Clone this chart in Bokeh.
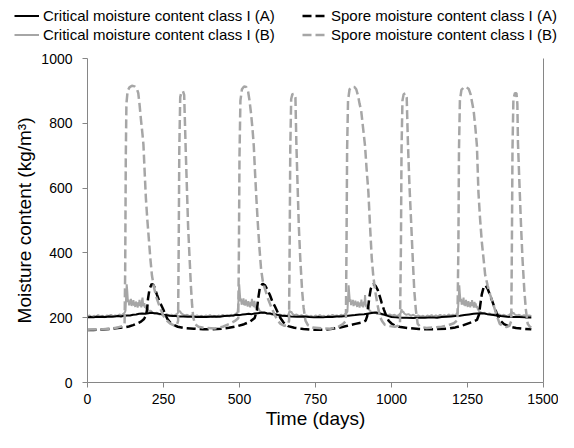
from bokeh.plotting import figure
from bokeh.models import Legend, LegendItem, FixedTicker, Range1d, LinearAxis
from bokeh.layouts import column
from bokeh.embed import file_html
from bokeh.resources import INLINE

# ---------------- data ----------------
x_ticks = [0, 250, 500, 750, 1000, 1250, 1500]
y_ticks = [0, 200, 400, 600, 800, 1000]

labels = ["Critical moisture content class I (A)",
          "Spore moisture content class I (A)",
          "Critical moisture content class I (B)",
          "Spore moisture content class I (B)"]

crit_a_t = [0, 10, 20, 30, 40, 50, 60, 70, 80, 90, 100, 110, 120, 130, 140, 150, 160, 170, 180, 190,
            200, 210, 220, 230, 240, 250, 260, 270, 280, 290, 300, 315, 330, 345, 360,
            375, 390, 405, 420, 435, 450, 465, 480, 490, 500, 510, 520, 530, 540, 550, 560, 570, 580,
            590, 600, 610, 620, 630, 640, 655, 670, 690, 710, 730,
            745, 760, 775, 790, 805, 820, 835, 850, 865, 880, 895, 910, 925, 940, 950, 960, 970, 980,
            990, 1000, 1015, 1030, 1050, 1070, 1090,
            1110, 1130, 1150, 1165, 1180, 1195, 1210, 1225, 1240, 1255, 1270, 1281, 1295, 1305, 1315,
            1330, 1345, 1360, 1380, 1400, 1420, 1440, 1460]
crit_a_v = [201, 202, 201, 203, 202, 203, 202, 204, 203, 204, 205, 204, 206, 207, 207, 209, 210, 212, 213, 212,
            214, 215, 214, 213, 211, 209, 208, 206, 205, 205, 204, 204, 203, 203, 202,
            203, 202, 203, 204, 203, 205, 206, 207, 209, 208, 210, 211, 212, 211, 213, 214, 215, 216,
            214, 213, 211, 210, 208, 206, 205, 204, 203, 204, 202,
            201, 202, 201, 203, 202, 204, 204, 205, 207, 208, 210, 211, 213, 215, 216, 214, 211, 208,
            205, 202, 201, 200, 200, 199, 200,
            200, 201, 200, 202, 203, 204, 205, 206, 208, 210, 212, 213, 214, 213, 211,
            209, 207, 205, 203, 202, 202, 201, 201]

crit_b_t = [0, 7, 14, 21, 28, 35, 42, 49, 56, 63, 70, 77, 84, 91, 98, 105, 112, 118, 122, 125, 127, 129,
            131, 133, 135, 137, 139, 141, 143, 145, 147, 149, 151, 153, 155, 157, 159, 161, 163, 165,
            167, 169, 171, 173, 175, 177, 179, 181, 183, 185, 187, 189, 191, 193, 196, 199, 203, 208,
            214, 220, 228, 236, 244, 252, 260, 268, 276, 284, 292, 297, 299, 301, 304, 308, 314, 320,
            328, 336, 344, 352, 360,
            368, 375, 382, 389, 396, 403, 410, 417, 424, 431, 438, 445, 452, 459, 466, 473, 480, 486,
            491, 494, 497, 499, 501, 503, 505, 507, 509, 511, 513, 515, 517, 519, 521, 523, 525, 527,
            529, 531, 533, 535, 537, 539, 541, 543, 545, 547, 549, 551, 553, 555, 558, 562, 566, 571,
            577, 584, 592, 600, 608, 616, 624, 632, 640, 648, 656, 662, 665, 667, 670, 674, 680, 688,
            696, 704, 712, 720, 728,
            736, 743, 750, 757, 764, 771, 778, 785, 792, 799, 806, 813, 820, 827, 834, 841, 847, 851,
            855, 857, 859, 861, 863, 865, 867, 869, 871, 873, 875, 877, 879, 881, 883, 885, 887, 889,
            891, 893, 895, 897, 899, 901, 903, 905, 907, 909, 911, 913, 915, 917, 919, 921, 924, 928,
            933, 939, 946, 954, 962, 970, 978, 986, 994, 1002, 1010, 1018, 1026, 1030, 1033, 1035,
            1038, 1042, 1048, 1056, 1064, 1072, 1080, 1088, 1096,
            1104, 1111, 1118, 1125, 1132, 1139, 1146, 1153, 1160, 1167, 1174, 1181, 1188, 1195, 1202,
            1209, 1214, 1218, 1221, 1223, 1225, 1227, 1229, 1231, 1233, 1235, 1237, 1239, 1241, 1243,
            1245, 1247, 1249, 1251, 1253, 1255, 1257, 1259, 1261, 1263, 1265, 1267, 1269, 1271, 1273,
            1275, 1277, 1279, 1281, 1284, 1288, 1293, 1299, 1306, 1314, 1322, 1330, 1338, 1346, 1354,
            1362, 1370, 1378, 1386, 1392, 1396, 1398, 1401, 1405, 1412, 1420, 1428, 1436, 1444, 1452,
            1460]
crit_b_v = [204, 207, 202, 206, 203, 208, 204, 206, 201, 207, 205, 209, 204, 207, 205, 210, 207, 212, 215, 222, 262, 303,
            280, 248, 256, 238, 250, 242, 258, 236, 247, 240, 254, 237, 245, 233, 250, 238, 244, 231,
            248, 236, 255, 238, 243, 232, 252, 262, 240, 236, 245, 230, 238, 227, 233, 224, 219, 222,
            216, 213, 215, 210, 212, 208, 211, 207, 209, 206, 210, 214, 224, 218, 221, 214, 210, 207,
            209, 205, 208, 204, 207,
            203, 206, 202, 207, 204, 208, 203, 206, 202, 207, 204, 209, 205, 207, 204, 209, 206, 211,
            214, 218, 258, 303, 276, 251, 259, 240, 252, 244, 260, 239, 249, 237, 256, 241, 247, 234,
            251, 240, 246, 232, 249, 238, 258, 236, 244, 233, 252, 240, 229, 237, 226, 230, 221, 218,
            214, 216, 211, 213, 209, 212, 207, 210, 206, 209, 205, 212, 222, 216, 219, 212, 208, 210,
            205, 208, 203, 207, 204,
            206, 202, 207, 203, 208, 204, 206, 201, 207, 204, 209, 205, 207, 203, 209, 206, 211, 214,
            219, 256, 300, 274, 249, 257, 239, 251, 243, 255, 236, 248, 238, 253, 240, 246, 233, 250,
            239, 245, 231, 247, 237, 256, 235, 243, 232, 250, 238, 270, 242, 233, 240, 228, 232, 222,
            218, 215, 216, 211, 213, 209, 212, 207, 210, 206, 209, 205, 210, 214, 226, 217,
            220, 213, 209, 211, 206, 209, 204, 207, 203,
            206, 202, 207, 204, 208, 203, 207, 204, 209, 205, 208, 204, 210, 206, 209,
            207, 212, 216, 258, 300, 273, 250, 258, 240, 252, 244, 262, 238, 248, 236,
            255, 240, 246, 233, 251, 240, 245, 232, 248, 237, 254, 236, 243, 231, 249,
            238, 244, 230, 236, 226, 220, 217, 214, 215, 211, 213, 209, 211, 207, 210,
            206, 209, 205, 208, 212, 219, 213, 216, 210, 207, 209, 205, 208, 204, 207,
            205]

spore_a_t = [0, 20, 40, 60, 80, 100, 120, 136, 150, 165, 176, 186, 192, 196, 199, 204, 211, 217, 222, 228,
             235, 242, 249, 256, 263, 272, 282, 297, 320, 350, 380, 410, 440, 465, 490, 515, 535, 550,
             557, 562, 567, 576, 584, 592, 600, 608, 616, 624, 634, 645, 660, 680, 710, 740, 773, 800,
             827, 855, 881, 905, 915, 920, 923, 927, 932, 940, 948, 955, 962, 968, 975, 983, 991, 1000,
             1011, 1030, 1054, 1090, 1119, 1150, 1183, 1210, 1237, 1264, 1281, 1288, 1292, 1297, 1303,
             1309, 1316, 1324, 1335, 1345, 1356, 1370, 1389, 1410, 1432, 1460]
spore_a_v = [162, 162, 163, 164, 166, 168, 170, 173, 177, 183, 188, 196, 206, 225, 258, 288, 304, 301, 290, 272,
             254, 240, 226, 210, 196, 185, 178, 172, 168, 166, 164, 164, 166, 169, 173, 180, 188, 199,
             222, 262, 293, 305, 300, 286, 270, 250, 236, 220, 200, 185, 174, 169, 165, 163, 163, 165,
             169, 175, 181, 186, 191, 205, 230, 262, 290, 304, 298, 285, 264, 245, 225, 205, 190, 182,
             176, 171, 168, 165, 164, 165, 166, 170, 177, 186, 193, 210, 240, 272, 294,
             300, 290, 270, 242, 216, 193, 180, 172, 168, 166, 164]

spore_b_t = [0, 20, 40, 60, 80, 100, 115, 122, 124, 126, 128, 132, 138, 146, 155, 162, 167, 171, 176, 181,
             184, 188, 192, 197, 202, 207, 212, 219, 227, 238, 249, 260, 272, 285, 294, 298, 300, 302,
             305, 309, 314, 318, 320, 323, 327, 331, 336, 340, 344, 348, 354, 365, 390, 420, 445, 465,
             485, 496, 498, 500, 503, 508, 515, 522, 528, 533, 538, 543, 547, 551, 556, 561, 566, 571,
             577, 585, 595, 605, 615, 625, 635, 648, 658, 663, 665, 667, 670, 674, 680, 684, 687, 691,
             695, 700, 706, 711, 717, 725, 740, 770, 800, 825, 840, 850, 852, 854, 857, 862, 870, 878,
             884, 890, 895, 900, 906, 913, 918, 924, 929, 935, 940, 946, 954, 962, 970, 978, 995, 1011,
             1022, 1028, 1031, 1033, 1036, 1040, 1046, 1050, 1054, 1059, 1065, 1070, 1075, 1080, 1086,
             1095, 1115, 1140, 1165, 1185, 1205, 1217, 1220, 1222, 1225, 1230, 1238, 1246, 1254, 1260,
             1265, 1270, 1276, 1281, 1286, 1291, 1297, 1303, 1308, 1316, 1325, 1335, 1345, 1356, 1367,
             1378, 1388, 1394, 1396, 1398, 1401, 1406, 1411, 1414, 1416, 1421, 1426, 1431, 1437, 1442,
             1448, 1455, 1460]
spore_b_v = [163, 164, 163, 165, 167, 170, 174, 180, 350, 700, 860, 900, 911, 916, 914, 908, 893, 860, 810, 765,
             734, 650, 570, 500, 440, 380, 330, 292, 262, 232, 207, 192, 182, 176, 177, 190, 420, 720,
             880, 897, 899, 888, 820, 720, 600, 480, 380, 300, 240, 200, 180, 172, 168, 167, 172, 180,
             190, 198, 400, 700, 870, 905, 914, 912, 900, 870, 830, 780, 730, 650, 560, 480, 410, 350,
             310, 285, 255, 232, 210, 192, 181, 175, 178, 190, 420, 720, 875, 890, 891, 880, 740, 610,
             486, 380, 283, 230, 191, 177, 170, 167, 166, 172, 180, 190, 420, 720, 870, 905, 913, 912,
             905, 885, 860, 841, 790, 730, 660, 587, 490, 384, 330, 284, 240, 203, 188, 178, 174, 172,
             175, 185, 420, 720, 870, 890, 892, 880, 740, 610, 486, 380, 283, 225, 181,
             172, 168, 170, 172, 176, 183, 192, 420, 720, 870, 903, 911, 912, 906, 890,
             865, 841, 785, 730, 587, 510, 435, 380, 333, 300, 270, 241, 210, 181, 175,
             171, 175, 190, 420, 720, 875, 893, 893, 860, 740, 610, 486, 380, 283, 225,
             181, 172, 170]

# ---------------- styles ----------------
FONT = "Liberation Sans"
GRAY_AX = "#868686"
GRAY_LN = "#a6a6a6"
styles = [dict(line_color="#000000", line_width=2),
          dict(line_color="#000000", line_width=2.5, line_dash="9 4"),
          dict(line_color=GRAY_LN, line_width=2),
          dict(line_color=GRAY_LN, line_width=2.5, line_dash="9 4")]

# ---------------- legend strip (frame not aligned with the plot below) ----------------
leg = figure(width=558, height=50, output_backend="svg", toolbar_location=None,
             x_axis_type=None, y_axis_type=None,
             min_border_left=0, min_border_right=0, min_border_top=0, min_border_bottom=0,
             x_range=Range1d(0, 1), y_range=Range1d(0, 1), frame_align=False)
leg.outline_line_color = None
leg.grid.visible = False
# swatch renderers: kept outside the visible range, used only for the legend glyphs
leg_r = [leg.line([5, 6], [5, 5], **s) for s in styles]
legend = Legend(items=[LegendItem(label=lab, renderers=[r]) for lab, r in zip(labels, leg_r)],
                location=(14, 6), orientation="horizontal", ncols=2,
                label_text_font=FONT, label_text_font_size="15px", label_text_color="#000000",
                glyph_width=25, glyph_height=19, label_height=19, label_width=259,
                label_standoff=4, spacing=0, padding=0, margin=0,
                border_line_color=None, background_fill_alpha=0)
leg.add_layout(legend, "center")

# ---------------- main plot ----------------
p = figure(width=558, height=382, output_backend="svg", toolbar_location=None,
           x_range=Range1d(0, 1500), y_range=Range1d(0, 1000),
           min_border_left=87, min_border_right=15, min_border_top=8, min_border_bottom=50,
           frame_align=False)
p.outline_line_color = None
p.grid.visible = False

for ax, ticks in ((p.xaxis[0], x_ticks), (p.yaxis[0], y_ticks)):
    ax.ticker = FixedTicker(ticks=ticks)
    ax.axis_line_color = GRAY_AX
    ax.major_tick_line_color = GRAY_AX
    ax.major_tick_in = 0
    ax.major_tick_out = 5
    ax.minor_tick_line_color = None
    ax.major_label_text_font = FONT
    ax.major_label_text_font_size = "14px"
    ax.major_label_text_color = "#000000"
    ax.axis_label_text_font = FONT
    ax.axis_label_text_font_size = "19px"
    ax.axis_label_text_font_style = "normal"
    ax.axis_label_text_color = "#000000"

p.xaxis.major_label_standoff = 6
p.xaxis.axis_label_standoff = 1
p.yaxis.major_label_standoff = 10
p.yaxis.axis_label_standoff = 3
p.xaxis.axis_label = "Time (days)"
p.yaxis.axis_label = "Moisture content (kg/m\u00b3)"

right = LinearAxis(ticker=FixedTicker(ticks=[]), axis_line_color=GRAY_AX,
                   major_tick_line_color=None, minor_tick_line_color=None,
                   major_label_text_font_size="0px")
p.add_layout(right, "right")

p.line(crit_b_t, crit_b_v, **styles[2])
p.line(crit_a_t, crit_a_v, **styles[0])
p.line(spore_a_t, spore_a_v, **styles[1])
p.line(spore_b_t, spore_b_v, **styles[3])

layout = column(leg, p, spacing=0)
open("out.html", "w").write(file_html(layout, INLINE))
